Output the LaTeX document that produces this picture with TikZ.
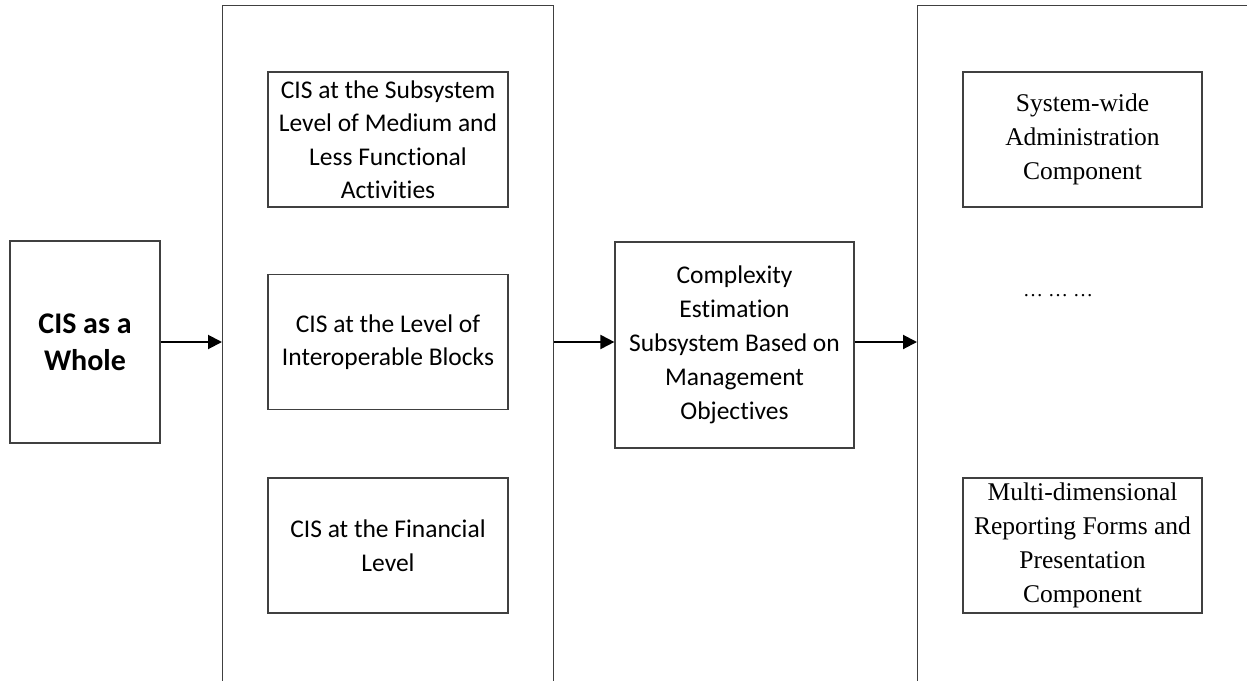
\documentclass[tikz,border=0pt]{standalone}
\usepackage{fontspec}
\setmainfont{Carlito}[Ligatures=NoCommon]
\newfontfamily\timesfont{Liberation Serif}
\usetikzlibrary{arrows.meta}

\begin{document}
\begin{tikzpicture}[x=1pt,y=-1pt,
  box/.style={draw=black!75, line width=1.2pt, align=center, inner sep=0pt},
  cisbox/.style={box, minimum width=240pt, minimum height=135pt,
    font=\fontsize{25.5}{33.5}\selectfont},
  compbox/.style={box, minimum width=239pt, minimum height=135pt,
    font=\timesfont\fontsize{25.5}{34}\selectfont},
  flow/.style={-{Triangle[length=14pt,width=14pt]}, line width=2pt}]
\useasboundingbox (0,0) rectangle (1247,680);
\clip (0,0) rectangle (1247,680);

% the two tall frames, open at the bottom and on the right
\node[box, minimum width=331pt, minimum height=720pt, anchor=north west] (levels) at (222,5) {};
\node[box, minimum width=360pt, minimum height=720pt, anchor=north west] (comps) at (917,5) {};

\node[box, minimum width=150pt, minimum height=202pt,
  font=\fontsize{30}{37}\selectfont\bfseries] (whole) at (85,342) {CIS as a\\Whole};

\node[cisbox] (sub) at (388,139.5) {CIS at the Subsystem\\Level of Medium and\\Less Functional\\Activities};
\node[cisbox] (blocks) at (388,342) {CIS at the Level of\\Interoperable Blocks};
\node[cisbox] (fin) at (388,545.5) {CIS at the Financial\\Level};

\node[box, minimum width=239pt, minimum height=206pt,
  font=\fontsize{25.5}{34}\selectfont] (estim) at (734.5,345)
  {Complexity\\Estimation\\Subsystem Based on\\Management\\Objectives};

\node[compbox] (admin) at (1082.5,139.5) {System-wide\\Administration\\Component};
\node[font=\timesfont\fontsize{20}{24}\selectfont] (dots) at (1058,296) {… … …};
\node[compbox] (report) at (1082.5,545.5) {Multi-dimensional\\Reporting Forms and\\Presentation\\Component};

\draw[flow] (whole.east) -- (whole.east -| levels.west);
\draw[flow] (levels.east |- whole.east) -- (whole.east -| estim.west);
\draw[flow] (estim.east |- whole.east) -- (whole.east -| comps.west);
\end{tikzpicture}
\end{document}
